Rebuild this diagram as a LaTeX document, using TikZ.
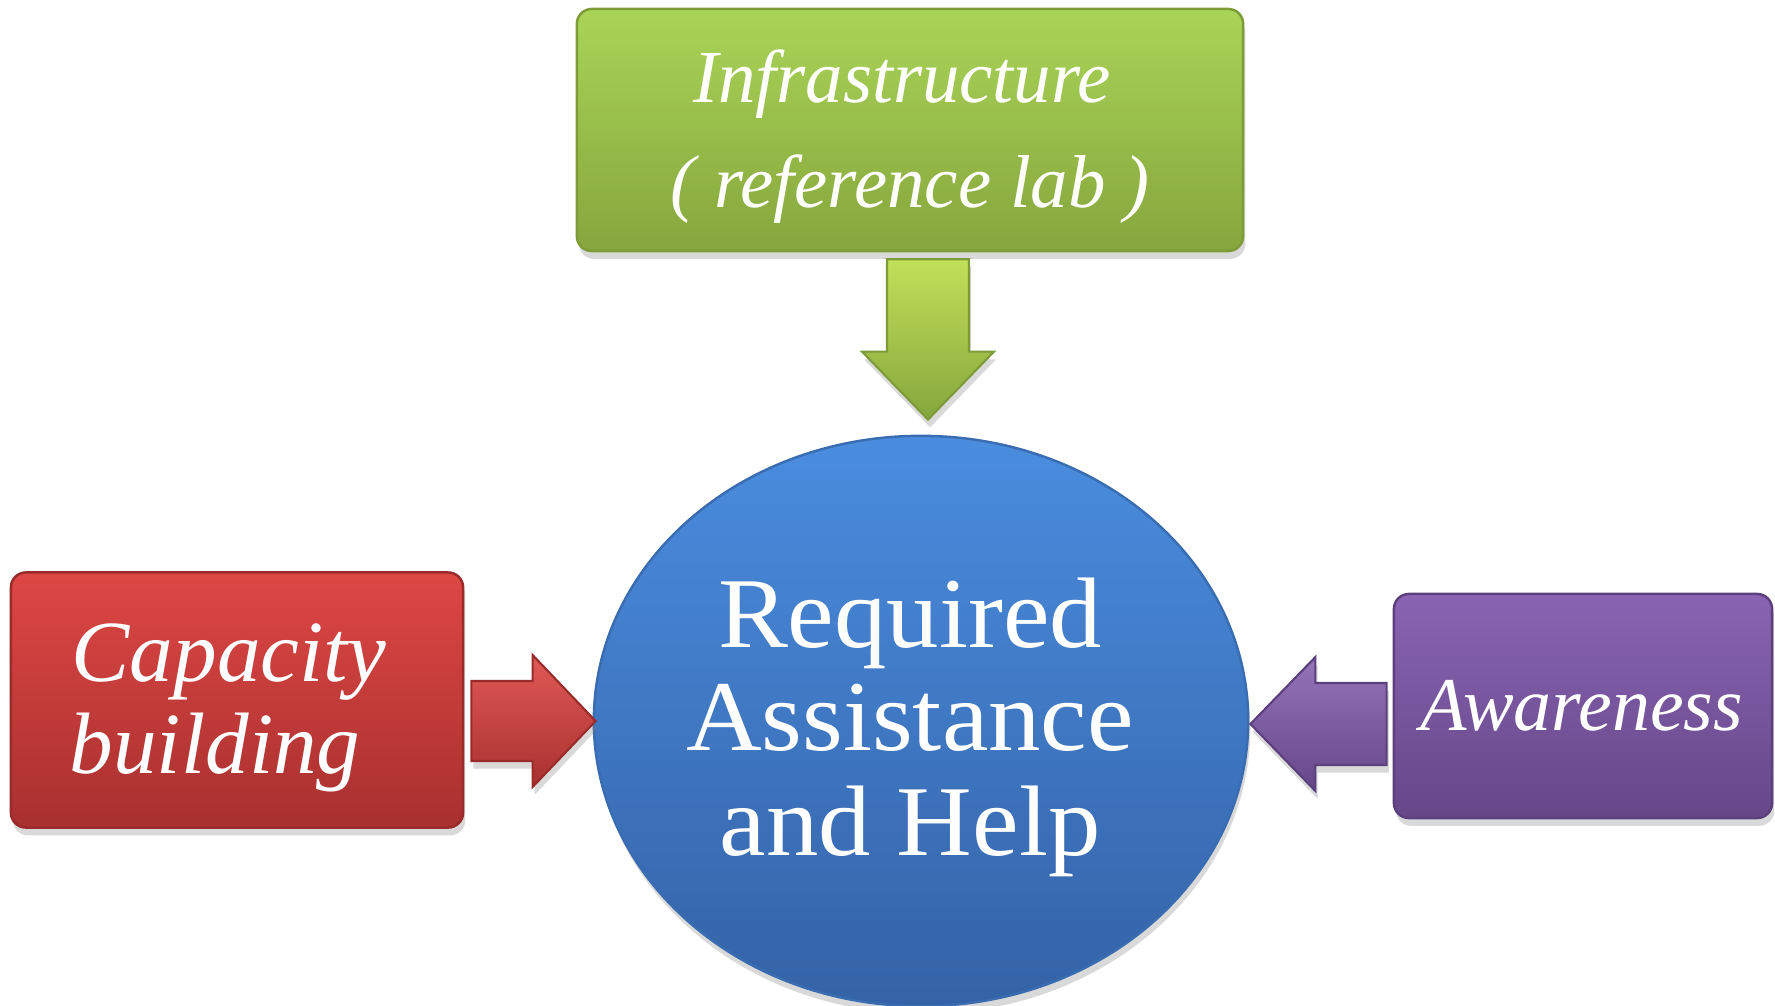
\documentclass[tikz,border=0pt]{standalone}
\usepackage{fontspec}
\setmainfont{Liberation Serif}
\newfontfamily\hubfont[FakeStretch=1.045]{Liberation Serif}
\usetikzlibrary{shapes.geometric,shadows,calc}
\definecolor{gtop}{HTML}{AAD457}
\definecolor{gbot}{HTML}{86A63D}
\definecolor{gline}{HTML}{7D9C38}
\definecolor{rtop}{HTML}{DD4744}
\definecolor{rbot}{HTML}{A8302F}
\definecolor{rline}{HTML}{992B2A}
\definecolor{ptop}{HTML}{8A64B3}
\definecolor{pbot}{HTML}{654788}
\definecolor{pline}{HTML}{5C407D}
\definecolor{btop}{HTML}{4A8DDF}
\definecolor{bbot}{HTML}{3462A6}
\definecolor{bline}{HTML}{3A6CB2}
\begin{document}
\begin{tikzpicture}[x=0.01cm,y=-0.01cm,
  shad/.style={drop shadow={opacity=0.3,shadow xshift=0.6pt,shadow yshift=-2.2pt}},
  tbox/.style={rounded corners=0.15cm, line width=0.7pt, shad, inner sep=0pt},
  greenbox/.style={tbox, draw=gline, top color=gtop, bottom color=gbot},
  redbox/.style={tbox, draw=rline, top color=rtop, bottom color=rbot},
  purplebox/.style={tbox, draw=pline, top color=ptop, bottom color=pbot},
  hub/.style={ellipse, inner sep=0pt, draw=bline, line width=0.7pt, shad, top color=btop, bottom color=bbot},
  lbl/.style={text=white, inner sep=0pt},
  greenlbl/.style={lbl, font={\fontsize{21.3}{25}\selectfont\itshape}},
  redlbl/.style={lbl, font={\fontsize{24.8}{28}\selectfont\itshape}},
  purplelbl/.style={lbl, font={\fontsize{21.6}{25}\selectfont\itshape}},
  hublbl/.style={lbl, font={\fontsize{28.5}{32}\hubfont}},
  greenarrow/.style={draw=gline, line width=0.6pt, line join=miter, top color=gtop!80!yellow!90!white, bottom color=gbot, shad},
  redarrow/.style={draw=rline, line width=0.6pt, line join=miter, top color=rtop!90!white, bottom color=rbot, shad},
  purplearrow/.style={draw=pline, line width=0.6pt, line join=miter, top color=ptop!90!white, bottom color=pbot, shad}
]
\useasboundingbox (0,0) rectangle (1775,1006);

\node[greenbox, minimum width=6.66cm, minimum height=2.42cm] (infra) at (910,130) {};
\node[redbox, minimum width=4.52cm, minimum height=2.55cm] (cap) at (237,700) {};
\node[purplebox, minimum width=3.78cm, minimum height=2.24cm] (aware) at (1583,706) {};
\node[hub, minimum width=6.54cm, minimum height=5.70cm] (help) at (921,721) {};

% texts
\node[greenlbl, anchor=base] (infra1) at ($(infra.center)+(-8,-28)$) {Infrastructure};
\node[greenlbl, anchor=base] (infra2) at ($(infra.center)+(0,77)$) {( reference lab )};
\node[redlbl, anchor=base west] (cap1) at ($(cap.center)+(-166,-19)$) {Capacity};
\node[redlbl, anchor=base west] (cap2) at ($(cap.center)+(-168,73)$) {building};
\node[purplelbl, anchor=base] (aware1) at ($(aware.center)+(-1,24)$) {Awareness};
\node[hublbl, anchor=base] (help1) at ($(help.center)+(-11,-74)$) {Required};
\node[hublbl, anchor=base] (help2) at ($(help.center)+(-11,29)$) {Assistance};
\node[hublbl, anchor=base] (help3) at ($(help.center)+(-11,134)$) {and Help};

% green block arrow (down)
\coordinate (gs) at ($(infra.south)+(18,7)$);
\coordinate (ge) at ($(help.north)+(7,-15)$);
\path[greenarrow] ($(gs)+(-41,0)$) -- ($(gs)+(41,0)$) -- ($(ge)+(41,-68)$)
  -- ($(ge)+(66,-68)$) -- (ge) -- ($(ge)+(-66,-68)$) -- ($(ge)+(-41,-68)$) -- cycle;

% red block arrow (right)
\coordinate (re) at ($(help.west)+(3,0)$);
\coordinate (rs0) at ($(cap.east)+(7,0)$);
\coordinate (rs) at (rs0 |- re);
\path[redarrow] ($(rs)+(0,-40)$) -- ($(re)+(-63,-40)$) -- ($(re)+(-63,-66)$)
  -- (re) -- ($(re)+(-63,66)$) -- ($(re)+(-63,40)$) -- ($(rs)+(0,40)$) -- cycle;

% purple block arrow (left)
\coordinate (pe) at ($(help.east)+(1,3)$);
\coordinate (ps0) at ($(aware.west)+(-6,0)$);
\coordinate (ps) at (ps0 |- pe);
\path[purplearrow] ($(ps)+(0,-41)$) -- ($(pe)+(65,-41)$) -- ($(pe)+(65,-67)$)
  -- (pe) -- ($(pe)+(65,67)$) -- ($(pe)+(65,41)$) -- ($(ps)+(0,41)$) -- cycle;
\end{tikzpicture}
\end{document}
